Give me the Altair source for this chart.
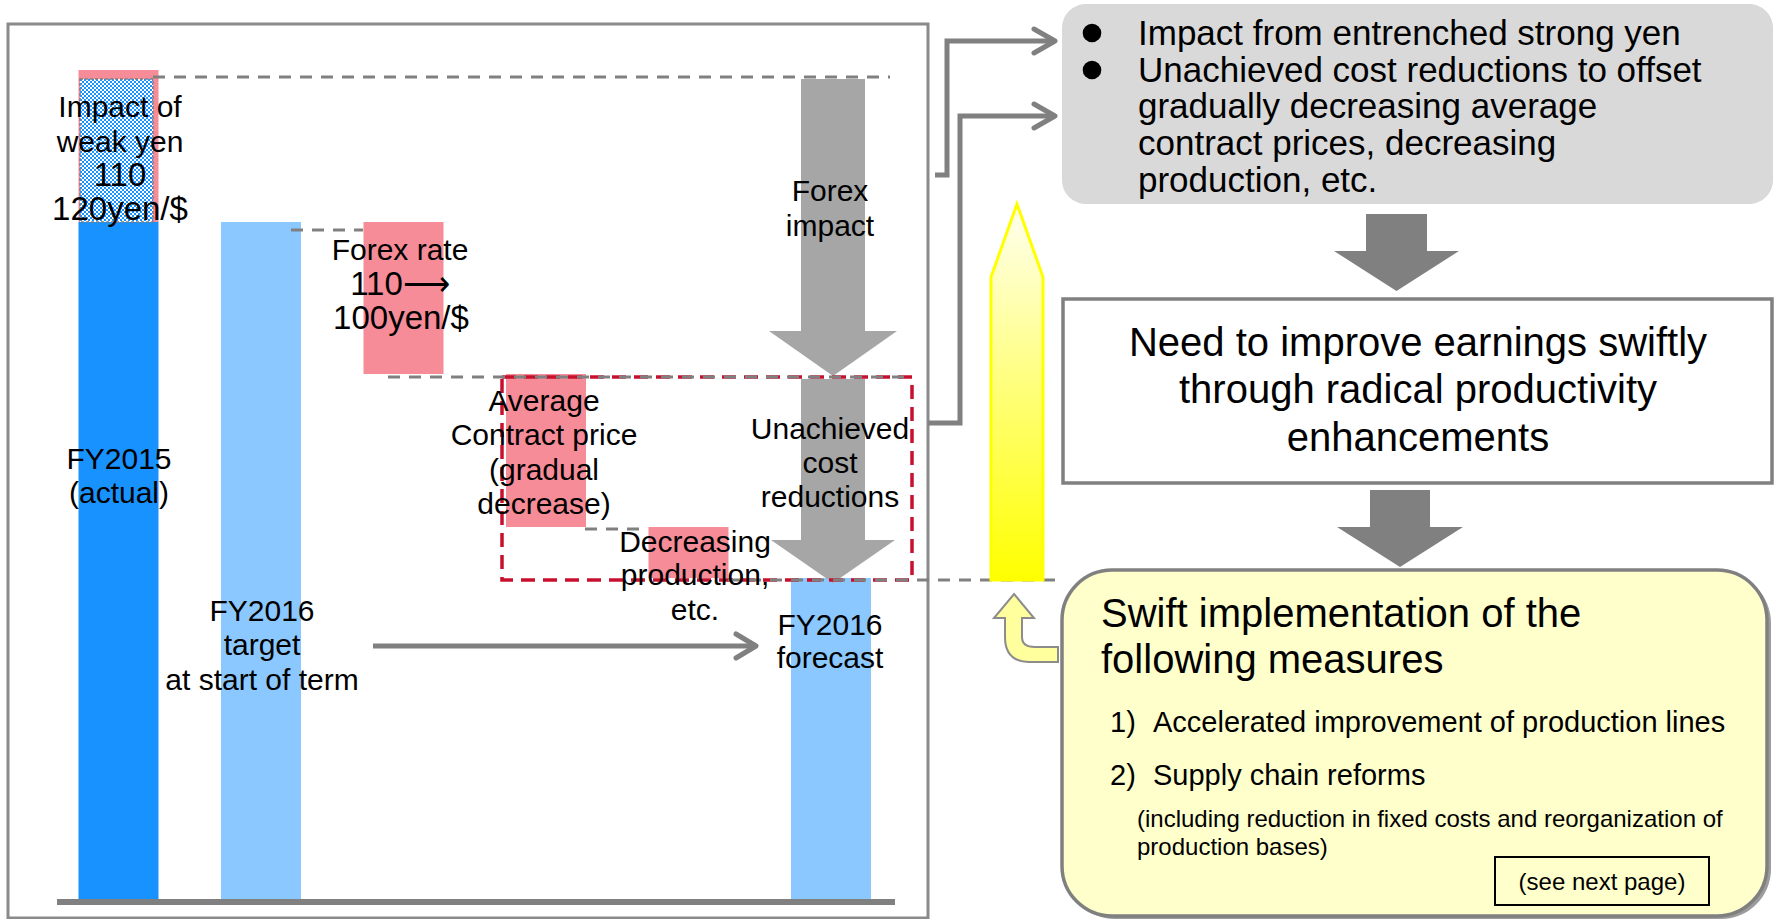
import altair as alt
import pandas as pd

W, H = 1775, 919
BASE = 899          # baseline of the waterfall (layout units, measured from the top)
FONT = "Liberation Sans"

# ---- waterfall values (bar heights above the baseline) ----
fy2015_actual = 677
weak_yen_impact = 152
fy2016_target = 677
forex_change = -152
contract_price_change = -153
production_change = -51

BLUE, LIGHT_BLUE, PINK = "#1892FE", "#8BC8FF", "#F68C97"

# ---- shared pixel-like frame ----
xs = alt.Scale(domain=[0, W], nice=False, zero=False)
ys = alt.Scale(domain=[0, H], nice=False, zero=False, reverse=True)


def X(f="x"):
    return alt.X(f, type="quantitative", scale=xs, axis=None)


def Y(f="y"):
    return alt.Y(f, type="quantitative", scale=ys, axis=None)


def rects(rows):
    return pd.DataFrame(rows, columns=["x", "x2", "y", "y2"])


# ---- waterfall table ----
lvl_target = fy2016_target
lvl_after_forex = lvl_target + forex_change
lvl_after_price = lvl_after_forex + contract_price_change
lvl_forecast = lvl_after_price + production_change

bars = pd.DataFrame(
    [
        ("FY2015 (actual)", 0, 0, fy2015_actual, "actual"),
        ("Impact of weak yen", 0, fy2015_actual, fy2015_actual + weak_yen_impact, "change"),
        ("FY2016 target", 1, 0, lvl_target, "plan"),
        ("Forex rate", 2, lvl_after_forex, lvl_target, "change"),
        ("Average contract price", 3, lvl_after_price, lvl_after_forex, "change"),
        ("Decreasing production", 4, lvl_forecast, lvl_after_price, "change"),
        ("FY2016 forecast", 5, 0, lvl_forecast, "plan"),
    ],
    columns=["step", "slot", "lo", "hi", "kind"],
)
bars["x"] = 118.5 + 142.5 * bars["slot"] - 40
bars["x2"] = bars["x"] + 80
bars["y"] = BASE - bars["hi"]
bars["y2"] = BASE - bars["lo"]

bar_layer = alt.Chart(bars).mark_rect().encode(
    x=X(), x2="x2", y=Y(), y2="y2",
    color=alt.Color("kind:N", scale=alt.Scale(domain=["actual", "plan", "change"],
                                              range=[BLUE, LIGHT_BLUE, PINK]), legend=None),
)

# left panel frame and axis line
frame = alt.Chart(rects([(8, 928, 24, 918)])).mark_rect(
    fill="white", stroke="#8A8A8A", strokeWidth=3).encode(x=X(), x2="x2", y=Y(), y2="y2")
axis_line = alt.Chart(pd.DataFrame({"x": [57], "x2": [895], "y": [902]})).mark_rule(
    color="#808080", strokeWidth=6).encode(x=X(), x2="x2", y=Y())

# dotted (checker) fill inside the weak-yen block
hatch_bg = alt.Chart(rects([(80, 153, 79, 222)])).mark_rect(color="white").encode(
    x=X(), x2="x2", y=Y(), y2="y2")
rows_even = pd.DataFrame({"y": list(range(80, 222, 4)), "x": 80, "x2": 153})
rows_odd = pd.DataFrame({"y": list(range(82, 222, 4)), "x": 80, "x2": 153})
hatch_a = alt.Chart(rows_even).mark_rule(color=BLUE, strokeWidth=2, strokeDash=[2, 2]).encode(
    x=X(), x2="x2", y=Y())
hatch_b = alt.Chart(rows_odd).mark_rule(color=BLUE, strokeWidth=2, strokeDash=[2, 2],
                                        strokeDashOffset=2).encode(x=X(), x2="x2", y=Y())
hatch_edge = alt.Chart(rects([(80, 153, 79, 222)])).mark_rect(
    fill="white", fillOpacity=0, stroke="#7F7F7F", strokeWidth=1.5, strokeDash=[3, 2]).encode(
    x=X(), x2="x2", y=Y(), y2="y2")

# dashed level guides
guides = pd.DataFrame(
    [(153, 890, 77), (291, 363, 230), (388, 912, 377), (585, 648, 529), (728, 1060, 580)],
    columns=["x", "x2", "y"])
guide_layer = alt.Chart(guides).mark_rule(color="#808080", strokeWidth=3, strokeDash=[12, 9]).encode(
    x=X(), x2="x2", y=Y())

# red dashed frame around the cost items
red_box = alt.Chart(rects([(502, 912, 377, 580)])).mark_rect(
    fill="white", fillOpacity=0, stroke="#C8102E", strokeWidth=3.5, strokeDash=[14, 8]).encode(
    x=X(), x2="x2", y=Y(), y2="y2")


def down_heads(items):
    rows = []
    for k, (xl, xr, yt, ytip) in enumerate(items):
        xc = (xl + xr) / 2
        rows += [dict(id=k, x=xl, y=yt, y2=yt), dict(id=k, x=xc, y=yt, y2=ytip),
                 dict(id=k, x=xr, y=yt, y2=yt)]
    return pd.DataFrame(rows)


# big grey arrows in the left panel
big_shafts = alt.Chart(rects([(801, 865, 79, 332), (801, 865, 379, 541)])).mark_rect(
    color="#A6A6A6").encode(x=X(), x2="x2", y=Y(), y2="y2")
big_heads = alt.Chart(down_heads([(769, 897, 331, 376), (771, 895, 540, 583)])).mark_area(
    orient="vertical", color="#A6A6A6", opacity=1).encode(
    x=X(), y=Y(), y2="y2", detail="id:N")

# flow arrows on the right
flow_shafts = alt.Chart(rects([(1366, 1427, 214, 252), (1370, 1430, 490, 528)])).mark_rect(
    color="#808080").encode(x=X(), x2="x2", y=Y(), y2="y2")
flow_heads = alt.Chart(down_heads([(1334, 1459, 251, 291), (1337, 1463, 527, 567)])).mark_area(
    orient="vertical", color="#808080", opacity=1).encode(
    x=X(), y=Y(), y2="y2", detail="id:N")

# yellow upward arrow
pencil = pd.DataFrame({"x": [991, 1017, 1043], "y": [580, 580, 580], "y2": [277, 204, 277]})
yellow_grad = alt.Gradient(
    gradient="linear",
    stops=[alt.GradientStop(color="#FFFFF0", offset=0), alt.GradientStop(color="#FFFF00", offset=1)],
    x1=0, x2=0, y1=0, y2=1)
pencil_layer = alt.Chart(pencil).mark_area(
    orient="vertical", fill=yellow_grad, stroke="#FFFF00", strokeWidth=3, opacity=1).encode(
    x=X(), y=Y(), y2="y2")


def polylines(paths):
    rows = []
    for k, pts in enumerate(paths):
        rows += [dict(id=k, i=j, x=px, y=py) for j, (px, py) in enumerate(pts)]
    return pd.DataFrame(rows)


connectors = polylines([
    [(935, 175), (947, 175), (947, 41), (1053, 41)],
    [(928, 423), (960, 423), (960, 116), (1053, 116)],
    [(373, 646), (753, 646)],
])
chevrons = polylines([
    [(1034, 29), (1055, 41), (1034, 53)],
    [(1034, 104), (1055, 116), (1034, 128)],
    [(736, 634), (756, 646), (736, 658)],
])
connector_layer = alt.Chart(connectors).mark_line(
    color="#808080", strokeWidth=5, strokeJoin="miter", strokeCap="butt").encode(
    x=X(), y=Y(), detail="id:N", order="i:Q")
chevron_layer = alt.Chart(chevrons).mark_line(
    color="#808080", strokeWidth=5, strokeJoin="round", strokeCap="round").encode(
    x=X(), y=Y(), detail="id:N", order="i:Q")

# boxes on the right
issue_box = alt.Chart(rects([(1062, 1773, 4, 204)])).mark_rect(
    color="#D9D9D9", cornerRadius=24).encode(x=X(), x2="x2", y=Y(), y2="y2")
need_box = alt.Chart(rects([(1063, 1772, 299, 483)])).mark_rect(
    fill="white", stroke="#808080", strokeWidth=3.5).encode(x=X(), x2="x2", y=Y(), y2="y2")
measure_shadow = alt.Chart(rects([(1065, 1771, 573, 919)])).mark_rect(
    color="#9C9C9C", cornerRadius=50).encode(x=X(), x2="x2", y=Y(), y2="y2")
measure_box = alt.Chart(rects([(1062, 1767, 570, 916)])).mark_rect(
    fill="#FFFFCC", stroke="#808080", strokeWidth=3.5, cornerRadius=50).encode(
    x=X(), x2="x2", y=Y(), y2="y2")
next_box = alt.Chart(rects([(1495, 1709, 857, 905)])).mark_rect(
    fill="white", fillOpacity=0, stroke="black", strokeWidth=2).encode(
    x=X(), x2="x2", y=Y(), y2="y2")

# small bent arrow pointing back up to the yellow arrow
UTURN = ("M-12,-34 L8,-10 L-4,-10 L-4,9 Q-4,19 9,19 L32,19 L32,34 L4,34 "
         "Q-21,34 -21,9 L-21,-10 L-32,-10 Z")
uturn = alt.Chart(pd.DataFrame({"x": [1026], "y": [628]})).mark_point(
    shape=UTURN, size=4, filled=True, fill="#FFFF9E", stroke="#8C8C8C", strokeWidth=2,
    opacity=1).encode(x=X(), y=Y())

bullets = alt.Chart(pd.DataFrame({"x": [1092, 1092], "y": [33, 70]})).mark_circle(
    size=346, color="black", opacity=1).encode(x=X(), y=Y())

# ---- text ----
center_text = pd.DataFrame([
    ("Impact of", 120, 117, 30),
    ("weak yen", 120, 152, 30),
    ("110", 120, 186, 33),
    ("120yen/$", 120, 220, 33),
    ("Forex rate", 400, 260, 30),
    ("110⟶", 400, 295, 33),
    ("100yen/$", 401, 329, 33),
    ("Forex", 830, 201, 30),
    ("impact", 830, 236, 30),
    ("Average", 544, 411, 30),
    ("Contract price", 544, 445, 30),
    ("(gradual", 544, 480, 30),
    ("decrease)", 544, 514, 30),
    ("Unachieved", 830, 439, 30),
    ("cost", 830, 473, 30),
    ("reductions", 830, 507, 30),
    ("Decreasing", 695, 552, 30),
    ("production,", 695, 585, 30),
    ("etc.", 695, 620, 30),
    ("FY2015", 119, 469, 30),
    ("(actual)", 119, 503, 30),
    ("FY2016", 262, 621, 30),
    ("target", 262, 655, 30),
    ("at start of term", 262, 690, 30),
    ("FY2016", 830, 635, 30),
    ("forecast", 830, 668, 30),
    ("Need to improve earnings swiftly", 1418, 356, 40),
    ("through radical productivity", 1418, 403, 40),
    ("enhancements", 1418, 451, 40),
    ("(see next page)", 1602, 890, 24),
], columns=["text", "x", "y", "size"])

left_text = pd.DataFrame([
    ("Impact from entrenched strong yen", 1138, 45, 35),
    ("Unachieved cost reductions to offset", 1138, 82, 35),
    ("gradually decreasing average", 1138, 118, 35),
    ("contract prices, decreasing", 1138, 155, 35),
    ("production, etc.", 1138, 192, 35),
    ("Swift implementation of the", 1101, 627, 40),
    ("following measures", 1101, 673, 40),
    ("1)", 1110, 732, 29),
    ("Accelerated improvement of production lines", 1153, 732, 29),
    ("2)", 1110, 785, 29),
    ("Supply chain reforms", 1153, 785, 29),
    ("(including reduction in fixed costs and reorganization of", 1137, 827, 24),
    ("production bases)", 1137, 855, 24),
], columns=["text", "x", "y", "size"])


def text_layer(df, align):
    return alt.Chart(df).mark_text(align=align, baseline="alphabetic", font=FONT, color="black").encode(
        x=X(), y=Y(), text="text:N", size=alt.Size("size:Q", scale=None))


chart = alt.layer(
    frame, axis_line, bar_layer, hatch_bg, hatch_a, hatch_b, hatch_edge,
    big_shafts, big_heads, red_box, guide_layer,
    pencil_layer, connector_layer, chevron_layer,
    issue_box, need_box, measure_shadow, measure_box, next_box,
    flow_shafts, flow_heads, uturn, bullets,
    text_layer(center_text, "center"), text_layer(left_text, "left"),
).properties(
    width=W, height=H, padding=0, background="white",
    autosize=alt.AutoSizeParams(type="none"),
).configure_view(stroke="transparent")

chart.save("out.html", embed_options={"renderer": "svg", "actions": False})
